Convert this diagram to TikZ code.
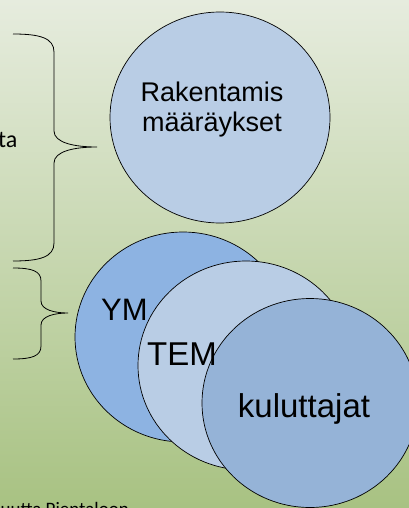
\documentclass[tikz,border=0pt]{standalone}
\usepackage{fontspec}
\setmainfont{Liberation Sans}
\newfontfamily\calib{Carlito}
\definecolor{bgtop}{HTML}{E6ECDE}
\definecolor{bgbot}{HTML}{A8C282}
\definecolor{ymblue}{HTML}{8DB3E2}
\definecolor{lightblue}{HTML}{B9CDE5}
\definecolor{kulblue}{HTML}{95B3D7}
\tikzset{
  bubble/.style={draw=black, line width=0.7pt, ellipse},
  bracepath/.style={draw=black, line width=0.8pt},
  lbl/.style={text=black, inner sep=0pt}
}
\usetikzlibrary{shapes.geometric}
\begin{document}
\begin{tikzpicture}[x=1pt,y=-1pt]
\useasboundingbox (0,0) rectangle (409,508);
\begin{scope}
\clip (0,0) rectangle (409,508);
\shade[top color=bgtop, bottom color=bgbot] (0,0) rectangle (409,508);
% top circle
\node[bubble, fill=lightblue, minimum width=220pt, minimum height=211pt] (rak) at (220,117.5) {};
\node[lbl, align=center, font=\fontsize{27}{30}\selectfont] (raktext) at (212,110) {Rakentamis\\määräykset};
% overlapping circles
\node[bubble, fill=ymblue, minimum width=216pt, minimum height=210pt] (ym) at (183,337) {};
\node[bubble, fill=lightblue, minimum width=216pt, minimum height=209pt] (tem) at (246,365.5) {};
\node[bubble, fill=kulblue, minimum width=216pt, minimum height=209pt] (kul) at (310,403) {};
\node[lbl, anchor=base west, font=\fontsize{31}{31}\selectfont] (ymt) at (101,320) {YM};
\node[lbl, anchor=base west, font=\fontsize{33}{33}\selectfont] (temt) at (147,365) {TEM};
\node[lbl, anchor=base, font=\fontsize{33}{33}\selectfont] (kult) at (304,417) {kuluttajat};
% left texts
\node[lbl, anchor=base east, font=\calib\fontsize{24}{24}\selectfont] (ta) at (17.5,147) {ta};
\node[lbl, anchor=base east, font=\calib\fontsize{19}{19}\selectfont] (bottom) at (129,515.5) {ruutta Pientaloon};
% braces
\path[bracepath] (13,34) .. controls (40,34) and (54,38) .. (54,52)
  -- (54,131) .. controls (54,143) and (75,147) .. (97,147)
  .. controls (75,147) and (54,151) .. (54,163)
  -- (54,243) .. controls (54,257) and (40,261) .. (13,261);
\path[bracepath] (13,268) .. controls (32,268) and (41,271) .. (41,281)
  -- (41,301) .. controls (41,310) and (55,313) .. (68,313)
  .. controls (55,313) and (41,316) .. (41,325)
  -- (41,346) .. controls (41,356) and (32,359) .. (13,359);
\end{scope}
\end{tikzpicture}
\end{document}
